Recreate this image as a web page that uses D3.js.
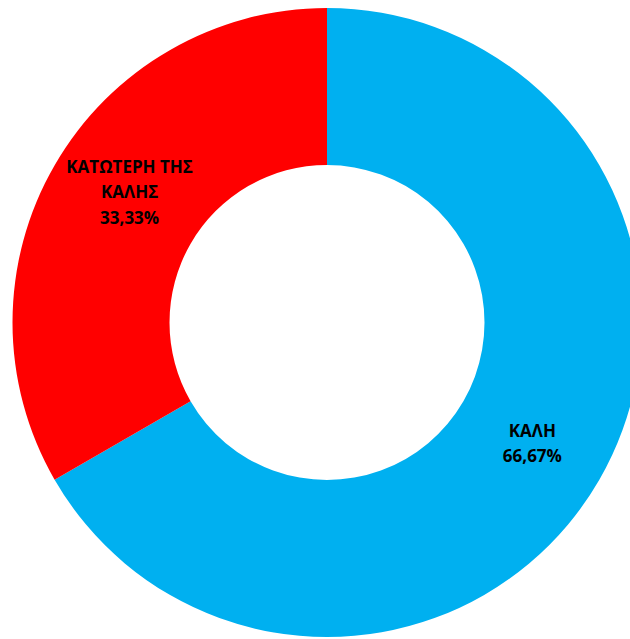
<!DOCTYPE html>
<html>
<head>
<meta charset="utf-8">
<script src="https://cdn.jsdelivr.net/npm/d3@7"></script>
<style>
  body { margin: 0; background: #fff; }
  .label { font-family: "Open Sans", "Noto Sans", sans-serif; font-weight: bold; font-size: 17px; fill: #000; }
</style>
</head>
<body>
<svg></svg>
<script>
// data
const categories = ["ΚΑΛΗ", "ΚΑΤΩΤΕΡΗ ΤΗΣ ΚΑΛΗΣ"];
const values = [66.67, 33.33];
const labelLines = [["ΚΑΛΗ", "66,67%"], ["ΚΑΤΩΤΕΡΗ ΤΗΣ", "ΚΑΛΗΣ", "33,33%"]];
const colors = ["#00B0F0", "#FF0000"];

const w = 630, h = 639;
const cx = 327, cy = 322.5;
const outerR = 314.5, innerR = 157.5;

const svg = d3.select("svg").attr("width", w).attr("height", h);
const chart = svg.append("g").attr("transform", "translate(" + cx + "," + cy + ")");

const pie = d3.pie().sort(null).value((d) => d);
const arc = d3.arc().innerRadius(innerR).outerRadius(outerR);

const arcs = pie(values);

chart.selectAll("path")
  .data(arcs)
  .enter()
  .append("path")
    .attr("d", arc)
    .attr("fill", (d, i) => colors[i]);

// labels near slice centroid (small nudge like excel does)
const lineH = 25.5;
const nudge = [[1, 3], [7, -12]];
arcs.forEach((d, i) => {
  const c = arc.centroid(d);
  const x = c[0] + nudge[i][0], y = c[1] + nudge[i][1];
  const lines = labelLines[i];
  const t = chart.append("text")
    .attr("class", "label")
    .attr("text-anchor", "middle")
    .attr("x", x)
    .attr("y", y - (lines.length - 1) * lineH / 2);
  lines.forEach((s, j) => {
    t.append("tspan")
      .attr("x", x)
      .attr("dy", j === 0 ? "0.35em" : lineH)
      .text(s);
  });
});
</script>
</body>
</html>
